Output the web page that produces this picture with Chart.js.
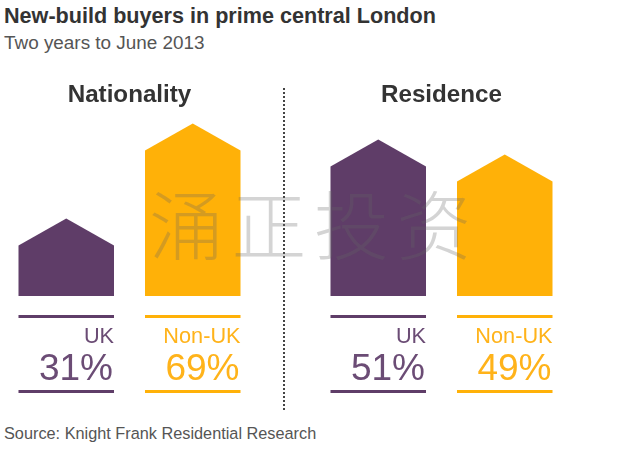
<!DOCTYPE html>
<html>
<head>
<meta charset="utf-8">
<title>New-build buyers in prime central London</title>
<script src="https://cdn.jsdelivr.net/npm/chart.js@4"></script>
<style>
  html, body { margin: 0; padding: 0; background: #fff; }
  body { position: relative; width: 631px; height: 450px; overflow: hidden; font-family: "Liberation Sans", Arial, sans-serif; }
  canvas { position: absolute; top: 70px; }
  #headline { position: absolute; left: 4px; top: 4px; font-size: 21.6px; line-height: 24px; font-weight: bold; color: #333; white-space: nowrap; }
  #subhead { position: absolute; left: 4px; top: 33px; font-size: 18.9px; line-height: 20px; color: #555; white-space: nowrap; }
  #source { position: absolute; left: 4px; top: 424px; font-size: 16.3px; line-height: 18px; color: #555; white-space: nowrap; }
  #divider { position: absolute; left: 283px; top: 88px; width: 1.5px; height: 322px; background: repeating-linear-gradient(#444 0 2px, transparent 2px 4px); }
  #watermark { position: absolute; left: 149px; top: 177px; font-family: "Noto Sans CJK SC", sans-serif; font-weight: 300; font-size: 75px; line-height: 90px; letter-spacing: 7.5px; color: rgba(100, 100, 100, 0.28); white-space: nowrap; pointer-events: none; }
</style>
</head>
<body>
<div id="headline">New-build buyers in prime central London</div>
<div id="subhead">Two years to June 2013</div>
<canvas id="nationality" width="253" height="340" style="left:3.25px"></canvas>
<canvas id="residence" width="253" height="340" style="left:314.75px"></canvas>
<div id="divider"></div>
<div id="watermark">涌正投资</div>
<div id="source">Source: Knight Frank Residential Research</div>

<script>
const categories = ['UK', 'Non-UK'];
const nationalityShares = [31, 69];
const residenceShares = [51, 49];
// heights as drawn in the picture; the Residence houses are not to the same scale as their labels
const nationalityHeights = [31, 69];
const residenceHeights = [62.6, 56.6];
const colours = ['#5f3d68', '#ffb108'];
const labelColours = ['#6b4c75', '#ffb31a'];

const ROOF = 27;

// bar element with a pitched roof instead of a flat top
class HouseBar extends Chart.BarElement {
  draw(ctx) {
    const { x, y, base, width } = this.getProps(['x', 'y', 'base', 'width']);
    ctx.save();
    ctx.fillStyle = this.options.backgroundColor;
    ctx.beginPath();
    ctx.moveTo(x - width / 2, base);
    ctx.lineTo(x - width / 2, y + ROOF);
    ctx.lineTo(x, y);
    ctx.lineTo(x + width / 2, y + ROOF);
    ctx.lineTo(x + width / 2, base);
    ctx.closePath();
    ctx.fill();
    ctx.restore();
  }
}
HouseBar.id = 'houseBar';
HouseBar.defaults = Chart.BarElement.defaults;

class HouseController extends Chart.BarController {}
HouseController.id = 'house';
HouseController.defaults = { ...Chart.BarController.defaults, dataElementType: 'houseBar' };
HouseController.overrides = Chart.BarController.overrides;

Chart.register(HouseBar, HouseController);

// rules, category name and percentage under each house
const shareLabels = {
  id: 'shareLabels',
  afterDraw(chart, args, opts) {
    const ctx = chart.ctx;
    const base = chart.scales.y.getPixelForValue(0);
    chart.getDatasetMeta(0).data.forEach((bar, i) => {
      const left = bar.x - bar.width / 2;
      const right = bar.x + bar.width / 2;
      ctx.save();
      ctx.fillStyle = colours[i];
      ctx.fillRect(left, base + 19, bar.width, 3);
      ctx.fillRect(left, base + 94, bar.width, 3);
      ctx.fillStyle = labelColours[i];
      ctx.textAlign = 'right';
      ctx.textBaseline = 'alphabetic';
      ctx.font = '21.7px "Liberation Sans", Arial, sans-serif';
      ctx.fillText(categories[i], right, base + 47);
      ctx.font = '37px "Liberation Sans", Arial, sans-serif';
      ctx.fillText(opts.shares[i] + '%', right - 1, base + 84);
      ctx.restore();
    });
  }
};

function renderPanel(canvasId, title, shares, heights) {
  return new Chart(document.getElementById(canvasId), {
    type: 'house',
    data: {
      labels: categories,
      datasets: [{
        data: heights,
        backgroundColor: colours,
        categoryPercentage: 1,
        barPercentage: 0.755
      }]
    },
    options: {
      responsive: false,
      animation: false,
      layout: { padding: { top: 0, bottom: 114, left: 0, right: 0 } },
      scales: {
        x: { type: 'category', display: false, grid: { display: false } },
        y: { type: 'linear', display: false, min: 0, max: 70, grid: { display: false } }
      },
      plugins: {
        legend: { display: false },
        tooltip: { enabled: false },
        title: {
          display: true,
          text: title,
          color: '#333',
          font: { family: '"Liberation Sans", Arial, sans-serif', size: 24.2, weight: 'bold', lineHeight: 1.2 },
          padding: { top: 11, bottom: 10.96 }
        },
        shareLabels: { shares: shares }
      }
    },
    plugins: [shareLabels]
  });
}

renderPanel('nationality', 'Nationality', nationalityShares, nationalityHeights);
renderPanel('residence', 'Residence', residenceShares, residenceHeights);
</script>
</body>
</html>
